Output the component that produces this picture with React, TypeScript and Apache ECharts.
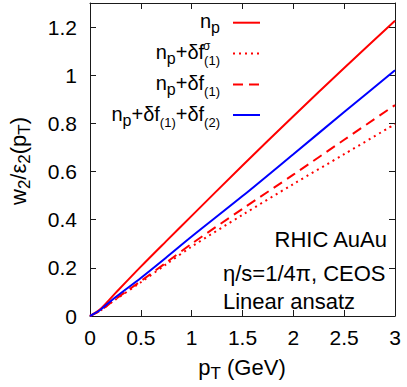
import React, { useEffect, useRef } from "react";
import * as echarts from "echarts";

const pT = [0, 0.1, 0.25, 0.5, 0.75, 1.0, 1.5, 2.0, 2.5, 3.0];
const npVals = [0, 0.028, 0.095, 0.205, 0.311, 0.416, 0.625, 0.83, 1.03, 1.226];
const npSigmaVals = [0, 0.022, 0.068, 0.14, 0.215, 0.288, 0.42, 0.548, 0.672, 0.797];
const npF1Vals = [0, 0.022, 0.07, 0.145, 0.222, 0.3, 0.445, 0.587, 0.732, 0.876];
const npF1F2Vals = [0, 0.025, 0.078, 0.158, 0.243, 0.33, 0.498, 0.672, 0.847, 1.021];

const xTicks = { min: 0, max: 3, interval: 0.5 };
const yTicks = { min: 0, max: 1.3, interval: 0.2 };

const FONT = "'Liberation Sans', Arial, sans-serif";
const RED = "#ff0000";
const BLUE = "#0000ff";
const AXIS = "#1a1a1a";

const pairs = (ys: number[]) => pT.map((x, i) => [x, ys[i]]);

const legendRich = {
  m: { fontSize: 20, fontFamily: FONT, color: "#000" },
  p: { fontSize: 16, fontFamily: FONT, color: "#000", padding: [13, 0, 0, 0] },
  s: { fontSize: 13, fontFamily: FONT, color: "#000", padding: [17, 0, 0, 0] },
};

export default function App() {
  const ref = useRef<HTMLDivElement>(null);
  useEffect(() => {
    if (!ref.current) return;
    const chart = echarts.init(ref.current, null, { renderer: "svg" });

    const legendRows = [
      { text: "{m|n}{p|p}", y: 22.7, color: RED, dash: "solid" as any },
      { text: "{m|n}{p|p}{m|+δf}{s|(1)}", y: 53.5, color: RED, dash: [2, 4] },
      { text: "{m|n}{p|p}{m|+δf}{s|(1)}", y: 84.5, color: RED, dash: [10, 6] },
      { text: "{m|n}{p|p}{m|+δf}{s|(1)}{m|+δf}{s|(2)}", y: 115, color: BLUE, dash: "solid" as any },
    ];

    const graphics: any[] = [];
    legendRows.forEach((r) => {
      graphics.push({
        type: "text",
        x: 220,
        y: r.y - 1.5,
        style: {
          text: r.text,
          align: "right",
          verticalAlign: "middle",
          rich: legendRich,
        },
      });
      graphics.push({
        type: "line",
        shape: { x1: 233, y1: r.y, x2: 260, y2: r.y },
        style: { stroke: r.color, lineWidth: 2, lineDash: r.dash === "solid" ? null : r.dash },
      });
    });
    graphics.push({
      type: "text",
      x: 203,
      y: 46,
      style: { text: "σ", fontSize: 12, fontFamily: FONT, fill: "#000", align: "left", verticalAlign: "middle" },
    });

    graphics.push(
      {
        type: "text",
        x: 387,
        y: 239,
        style: { text: "RHIC AuAu", fontSize: 22, fontFamily: FONT, fill: "#000", align: "right", verticalAlign: "middle" },
      },
      {
        type: "text",
        x: 223,
        y: 273.5,
        style: { text: "η/s=1/4π, CEOS", fontSize: 22, fontFamily: FONT, fill: "#000", align: "left", verticalAlign: "middle" },
      },
      {
        type: "text",
        x: 223,
        y: 301,
        style: { text: "Linear ansatz", fontSize: 22, fontFamily: FONT, fill: "#000", align: "left", verticalAlign: "middle" },
      },
      {
        type: "text",
        x: 242,
        y: 367,
        style: {
          text: "{m|p}{s|T}{m| (GeV)}",
          align: "center",
          verticalAlign: "middle",
          rich: {
            m: { fontSize: 22, fontFamily: FONT, color: "#000" },
            s: { fontSize: 17, fontFamily: FONT, color: "#000", padding: [12, 0, 0, 0] },
          },
        },
      },
      {
        type: "text",
        x: 18,
        y: 161,
        rotation: Math.PI / 2,
        style: {
          text: "{m|w}{s|2}{m|/ε}{s|2}{m|(p}{s|T}{m|)}",
          align: "center",
          verticalAlign: "middle",
          rich: {
            m: { fontSize: 22, fontFamily: FONT, color: "#000" },
            s: { fontSize: 17, fontFamily: FONT, color: "#000", padding: [12, 0, 0, 0] },
          },
        },
      }
    );

    const axisCommon = {
      axisLine: { show: true, onZero: false, lineStyle: { color: AXIS, width: 1 } },
      axisTick: { show: true, inside: true, length: 6, lineStyle: { color: AXIS } },
      splitLine: { show: false },
    };

    chart.setOption({
      animation: false,
      backgroundColor: "#fff",
      grid: { left: 90, right: 12, top: 3, bottom: 71, containLabel: false },
      xAxis: [
        {
          type: "value",
          position: "bottom",
          ...xTicks,
          ...axisCommon,
          axisLabel: { show: true, margin: 11, fontSize: 21, fontFamily: FONT, color: "#000" },
        },
        {
          type: "value",
          position: "top",
          ...xTicks,
          ...axisCommon,
          axisLabel: { show: false },
        },
      ],
      yAxis: [
        {
          type: "value",
          position: "left",
          ...yTicks,
          ...axisCommon,
          axisLabel: { show: true, margin: 13, fontSize: 21, fontFamily: FONT, color: "#000", showMaxLabel: false },
        },
        {
          type: "value",
          position: "right",
          ...yTicks,
          ...axisCommon,
          axisLabel: { show: false },
        },
      ],
      series: [
        { name: "n_p", type: "line", data: pairs(npVals), smooth: 0.3, showSymbol: false, lineStyle: { color: RED, width: 2 } },
        { name: "n_p+δf^σ_(1)", type: "line", data: pairs(npSigmaVals), smooth: 0.3, showSymbol: false, lineStyle: { color: RED, width: 2, type: [2, 4] } },
        { name: "n_p+δf_(1)", type: "line", data: pairs(npF1Vals), smooth: 0.3, showSymbol: false, lineStyle: { color: RED, width: 2, type: [10, 6] } },
        { name: "n_p+δf_(1)+δf_(2)", type: "line", data: pairs(npF1F2Vals), smooth: 0.3, showSymbol: false, lineStyle: { color: BLUE, width: 2 } },
      ],
      graphic: graphics,
    });
    return () => chart.dispose();
  }, []);
  return <div ref={ref} style={{ position: "fixed", left: 0, top: 0, width: 407, height: 387 }} />;
}
